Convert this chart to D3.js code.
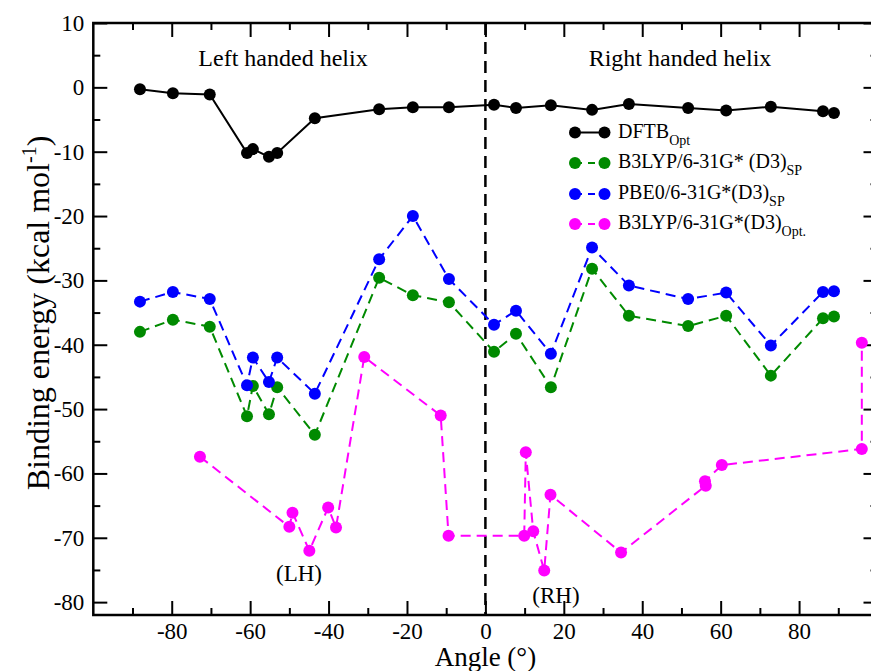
<!DOCTYPE html>
<html>
<head>
<meta charset="utf-8">
<script src="https://cdn.jsdelivr.net/npm/d3@7"></script>
<style>
  body { margin: 0; background: #fff; }
  text { font-family: "Liberation Serif", "Times New Roman", serif; fill: #000; }
</style>
</head>
<body>
<svg id="chart" width="871" height="671"></svg>
<script>
// Dihedral angles (degrees) shared by the single-point series
const spAngles = [-88.1, -79.7, -70.3, -60.8, -59.3, -55.2, -53.1, -43.5, -27.1, -18.5, -9.3,
                  2.2, 7.8, 16.7, 27.2, 36.6, 51.7, 61.4, 72.8, 86.1, 88.9];
// Binding energies (kcal/mol)
const dftbOpt = [-0.3, -0.9, -1.1, -10.2, -9.6, -10.8, -10.2, -4.8, -3.4, -3.1, -3.1,
                 -2.7, -3.2, -2.8, -3.5, -2.6, -3.2, -3.6, -3.0, -3.7, -4.0];
const b3lypSP = [-38.0, -36.1, -37.2, -51.1, -46.4, -50.8, -46.6, -54.0, -29.6, -32.3, -33.4,
                 -41.1, -38.3, -46.6, -28.2, -35.5, -37.1, -35.5, -44.8, -35.9, -35.6];
const pbe0SP = [-33.3, -31.8, -32.9, -46.3, -42.0, -45.8, -42.0, -47.6, -26.7, -20.0, -29.8,
                -36.9, -34.7, -41.4, -24.9, -30.8, -32.9, -31.9, -40.1, -31.8, -31.7];
// Fully optimised B3LYP structures have their own angles
const optAngles = [-72.8, -50.0, -49.2, -44.9, -40.1, -38.1, -30.9, -11.4, -9.4,
                   9.9, 10.3, 12.2, 15.0, 16.6, 34.6, 56.2, 56.0, 60.3, 96.0, 96.0];
const b3lypOpt = [-57.4, -68.3, -66.1, -72.0, -65.3, -68.4, -41.9, -51.0, -69.7,
                  -69.7, -56.7, -69.0, -75.1, -63.3, -72.3, -61.9, -61.2, -58.7, -56.2, -39.7];

const xTicks = [-80, -60, -40, -20, 0, 20, 40, 60, 80];
const xMinorTicks = [-90, -70, -50, -30, -10, 10, 30, 50, 70, 90];
const yTicks = [10, 0, -10, -20, -30, -40, -50, -60, -70, -80];
const yMinorTicks = [5, -5, -15, -25, -35, -45, -55, -65, -75];

const seriesNames = ["DFTB", "B3LYP/6-31G* (D3)", "PBE0/6-31G*(D3)", "B3LYP/6-31G*(D3)"];
const seriesSubs = ["Opt", "SP", "SP", "Opt."];
const seriesColors = ["#000000", "#008a00", "#0000ff", "#ff00ff"];

const series = [
  { xs: spAngles, ys: dftbOpt, dash: null },
  { xs: spAngles, ys: b3lypSP, dash: "10,6" },
  { xs: spAngles, ys: pbe0SP, dash: "10,6" },
  { xs: optAngles, ys: b3lypOpt, dash: "10,6" }
].map((s, i) => ({ ...s, name: seriesNames[i], sub: seriesSubs[i], color: seriesColors[i] }));

const svg = d3.select("#chart");
const plotL = 93.3, plotR = 877.5, plotT = 23, plotB = 615;

const x = d3.scaleLinear().domain([-100, 100]).range([plotL, plotR]);
const y = d3.scaleLinear().domain([-82, 10]).range([plotB, plotT]);

const font = 23;
const axisW = 2.5;
const serif = '"Liberation Serif","Times New Roman",serif';

function styleAxis(g) {
  g.attr("font-family", serif);
  g.select(".domain").remove();
  g.selectAll("line").attr("stroke", "#000").attr("stroke-width", 2);
  g.selectAll("text").style("font-size", font + "px").style("font-family", serif);
}
const fmt = d => String(d);

// Bottom axis, ticks point into the plot
svg.append("g").attr("transform", `translate(0,${plotB})`)
  .call(d3.axisBottom(x).tickValues(xTicks).tickFormat(fmt).tickSize(-14).tickPadding(8))
  .call(styleAxis);
svg.append("g").attr("transform", `translate(0,${plotB})`)
  .call(d3.axisBottom(x).tickValues(xMinorTicks).tickFormat("").tickSize(-7))
  .call(styleAxis);
// Top axis
svg.append("g").attr("transform", `translate(0,${plotT})`)
  .call(d3.axisTop(x).tickValues(xTicks).tickFormat("").tickSize(-14))
  .call(styleAxis);
svg.append("g").attr("transform", `translate(0,${plotT})`)
  .call(d3.axisTop(x).tickValues(xMinorTicks).tickFormat("").tickSize(-7))
  .call(styleAxis);
// Left axis
svg.append("g").attr("transform", `translate(${plotL},0)`)
  .call(d3.axisLeft(y).tickValues(yTicks).tickFormat(fmt).tickSize(-14).tickPadding(9))
  .call(styleAxis);
svg.append("g").attr("transform", `translate(${plotL},0)`)
  .call(d3.axisLeft(y).tickValues(yMinorTicks).tickFormat("").tickSize(-7))
  .call(styleAxis);
// Right axis
svg.append("g").attr("transform", `translate(${plotR},0)`)
  .call(d3.axisRight(y).tickValues(yTicks).tickFormat("").tickSize(-14))
  .call(styleAxis);
svg.append("g").attr("transform", `translate(${plotR},0)`)
  .call(d3.axisRight(y).tickValues(yMinorTicks).tickFormat("").tickSize(-7))
  .call(styleAxis);

// Frame
svg.append("rect").attr("x", plotL).attr("y", plotT)
  .attr("width", plotR - plotL).attr("height", plotB - plotT)
  .attr("fill", "none").attr("stroke", "#000").attr("stroke-width", axisW);

// Divider between left- and right-handed helices
svg.append("line")
  .attr("x1", x(0)).attr("x2", x(0)).attr("y1", plotT).attr("y2", plotB)
  .attr("stroke", "#000").attr("stroke-width", 2.5).attr("stroke-dasharray", "12,7");

// Series
const line = d3.line().x(d => x(d[0])).y(d => y(d[1]));
series.forEach(s => {
  const pts = s.xs.map((a, i) => [a, s.ys[i]]);
  const g = svg.append("g");
  g.append("path").attr("d", line(pts))
    .attr("fill", "none").attr("stroke", s.color).attr("stroke-width", 2)
    .attr("stroke-dasharray", s.dash);
  g.selectAll("circle").data(pts).join("circle")
    .attr("cx", d => x(d[0])).attr("cy", d => y(d[1])).attr("r", 6)
    .attr("fill", s.color);
});

// Region labels
svg.append("text").attr("x", 283).attr("y", 66).attr("text-anchor", "middle")
  .style("font-size", "24px").text("Left handed helix");
svg.append("text").attr("x", 680).attr("y", 66).attr("text-anchor", "middle")
  .style("font-size", "24px").text("Right handed helix");
svg.append("text").attr("x", 299).attr("y", 581).attr("text-anchor", "middle")
  .style("font-size", "23px").text("(LH)");
svg.append("text").attr("x", 556).attr("y", 603).attr("text-anchor", "middle")
  .style("font-size", "23px").text("(RH)");

// Axis titles
svg.append("text").attr("x", x(0)).attr("y", 666).attr("text-anchor", "middle")
  .style("font-size", "27px").text("Angle (°)");
const yt = svg.append("text").attr("transform", "translate(49,313) rotate(-90)")
  .attr("text-anchor", "middle").style("font-size", "32px");
yt.append("tspan").text("Binding energy (kcal mol");
yt.append("tspan").attr("dy", -13).style("font-size", "20px").text("-1");
yt.append("tspan").attr("dy", 13).text(")");

// Legend
const legRows = [132.5, 163, 194, 224];
const legend = svg.append("g");
series.forEach((s, i) => {
  const ly = legRows[i];
  const row = legend.append("g");
  row.append("line").attr("x1", 575).attr("x2", 604.5).attr("y1", ly).attr("y2", ly)
    .attr("stroke", s.color).attr("stroke-width", 2)
    .attr("stroke-dasharray", s.dash ? "7,6" : null);
  row.selectAll("circle").data([575, 604.5]).join("circle")
    .attr("cx", d => d).attr("cy", ly).attr("r", 6).attr("fill", s.color);
  const t = row.append("text").attr("x", 618).attr("y", ly + 5).style("font-size", "20px");
  t.append("tspan").text(s.name);
  t.append("tspan").attr("dy", 7).style("font-size", "14px").text(s.sub);
});
</script>
</body>
</html>
